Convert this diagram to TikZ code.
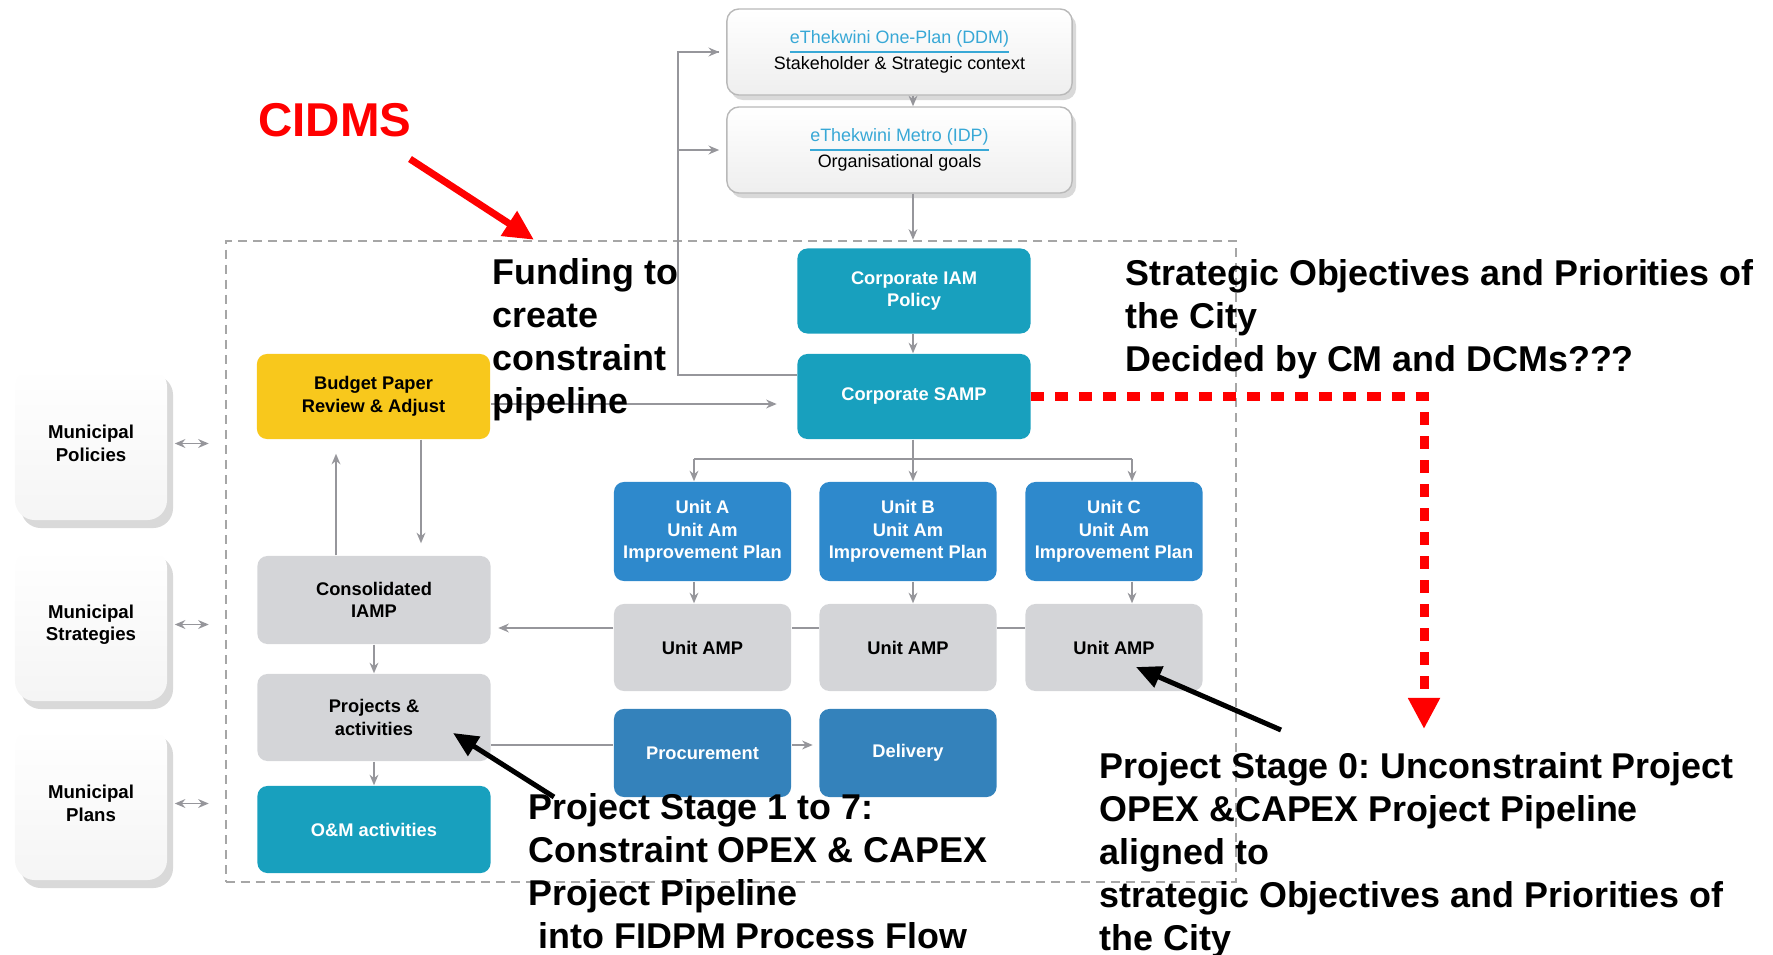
\documentclass[tikz,border=0pt]{standalone}
\usepackage{fontspec}
\setmainfont{Liberation Sans}
\usepackage{xcolor}
\usepackage{tikz}
\usetikzlibrary{arrows.meta, shadows, positioning}
\frenchspacing

\definecolor{camteal}{RGB}{24,160,190}
\definecolor{camblue}{RGB}{46,137,204}
\definecolor{camgrey}{RGB}{212,213,216}
\definecolor{camyellow}{RGB}{248,200,28}
\definecolor{camlink}{RGB}{56,168,214}
\definecolor{camline}{RGB}{150,150,155}
\definecolor{camred}{RGB}{255,0,0}

\begin{document}
\begin{tikzpicture}[
    x=0.01cm, y=-0.01cm,
    box/.style={rectangle, rounded corners=0.1cm, minimum width=2.33cm, minimum height=0.85cm, font=\fontsize{5.2}{6.4}\selectfont\bfseries, align=center, inner sep=1pt},
    tealbox/.style={box, fill=camteal, text=white},
    bluebox/.style={box, fill=camblue, text=white, minimum width=1.77cm},
    greybox/.style={box, fill=camgrey},
    topbox/.style={rectangle, rounded corners=0.12cm, draw=gray!55, top color=white, bottom color=gray!13, minimum width=3.45cm, minimum height=0.86cm, font=\fontsize{5.1}{7.5}\selectfont, align=center, drop shadow={opacity=0.3, shadow xshift=0.04cm, shadow yshift=-0.05cm}},
    munibox/.style={rectangle, rounded corners=0.2cm, top color=white, bottom color=gray!8, minimum width=1.52cm, minimum height=1.53cm, font=\fontsize{5.3}{6.4}\selectfont\bfseries, align=center, drop shadow={opacity=0.3, shadow xshift=0.06cm, shadow yshift=-0.08cm}},
    frame/.style={rectangle, draw=gray!70, line width=0.6pt, dash pattern=on 0.09cm off 0.06cm, minimum width=10.1cm, minimum height=6.41cm},
    note/.style={font=\fontsize{10.2}{12.2}\selectfont\bfseries, align=left, anchor=north west, inner sep=0pt},
    line/.style={camline, line width=0.5pt},
    flow/.style={line, -{Stealth[length=3pt, width=2.5pt]}},
    flowboth/.style={line, {Stealth[length=3pt, width=2.5pt]}-{Stealth[length=3pt, width=2.5pt]}},
    redflow/.style={camred, line width=0.09cm, dash pattern=on 0.13cm off 0.11cm, -{Triangle[length=0.31cm, width=0.3cm]}},
    redarrow/.style={camred, line width=0.07cm, -{Triangle[length=0.3cm, width=0.28cm]}},
    blackarrow/.style={black, line width=0.05cm, -{Triangle[length=0.25cm, width=0.22cm]}}
]
\useasboundingbox (0,0) rectangle (1773,954);

% CIDMS boundary
\node[frame] (cidmsframe) at (731,561.5) {};

% top context boxes
\node[topbox] (oneplan) at (899.5,52) {\textcolor{camlink}{\underline{eThekwini One-Plan (DDM)}}\\Stakeholder \& Strategic context};
\node[topbox] (metro) at (899.5,150) {\textcolor{camlink}{\underline{eThekwini Metro (IDP)}}\\Organisational goals};

% corporate level
\node[tealbox] (iam) at (914,291) {Corporate IAM\\Policy};
\node[tealbox] (samp) at (914,396.5) {Corporate SAMP};

% left column
\node[box, fill=camyellow] (budget) at (373.5,396.5) {Budget Paper\\Review \& Adjust};
\node[greybox, minimum height=0.88cm] (consol) at (374,600) {Consolidated\\IAMP};
\node[greybox, minimum height=0.87cm] (projects) at (374,717.5) {Projects \&\\activities};
\node[tealbox, minimum height=0.87cm] (om) at (374,829.5) {O\&M activities};

% unit plans
\node[bluebox, minimum height=0.99cm] (planA) at (702.5,531.5) {Unit A\\Unit Am\\Improvement Plan};
\node[bluebox, minimum height=0.99cm] (planB) at (908,531.5) {Unit B\\Unit Am\\Improvement Plan};
\node[bluebox, minimum height=0.99cm] (planC) at (1114,531.5) {Unit C\\Unit Am\\Improvement Plan};

% unit AMPs
\node[greybox, minimum width=1.77cm, minimum height=0.87cm] (ampA) at (702.5,647.5) {Unit AMP};
\node[greybox, minimum width=1.77cm, minimum height=0.87cm] (ampB) at (908,647.5) {Unit AMP};
\node[greybox, minimum width=1.77cm, minimum height=0.87cm] (ampC) at (1114,647.5) {Unit AMP};

% delivery row
\node[bluebox, minimum height=0.88cm, fill=camblue!90!black!95] (procure) at (702.5,753) {Procurement};
\node[bluebox, minimum height=0.88cm, fill=camblue!90!black!95] (delivery) at (908,753) {Delivery};

% municipal inputs
\node[munibox] (mpol) at (91,443.5) {Municipal\\Policies};
\node[munibox] (mstrat) at (91,624.5) {Municipal\\Strategies};
\node[munibox] (mplans) at (91,803.5) {Municipal\\Plans};

% helper points
\coordinate (fbcorner) at (678,375);
\coordinate (brA) at (694,459);
\coordinate (brB) at (913,459);
\coordinate (brC) at (1132,459);
\coordinate (stage0tip) at (1424,729);
\coordinate (cidmsfrom) at (410,159);
\coordinate (stage0from) at (1281,730);
\coordinate (stage1from) at (554,797);

% grey connectors
\draw[flow] (oneplan.south -| brB) -- (metro.north -| brB);
\draw[flow] (metro.south -| brB) -- (cidmsframe.north -| brB);
\draw[flow] (iam.south -| brB) -- (samp.north -| brB);
\draw[line] (samp.west |- fbcorner) -- (fbcorner) |- ([xshift=-0.07cm]oneplan.west);
\draw[flow, shorten >=0.07cm] (fbcorner |- oneplan.west) -- (oneplan.west);
\draw[flow, shorten >=0.07cm] (fbcorner |- metro.west) -- (metro.west);
\draw[flow, shorten >=0.2cm] ([yshift=-0.075cm]budget.east) -- ([yshift=-0.075cm]budget.east -| samp.west);
\draw[line] (samp.south -| brB) -- (brB);
\draw[line] (brA) -- (brC);
\draw[flow] (brA) -- (brA |- planA.north);
\draw[flow] (brB) -- (brB |- planB.north);
\draw[flow] (brC) -- (brC |- planC.north);
\draw[flow] (planA.south -| brA) -- (ampA.north -| brA);
\draw[flow] (planB.south -| brB) -- (ampB.north -| brB);
\draw[flow] (planC.south -| brC) -- (ampC.north -| brC);
\draw[line] ([yshift=0.195cm]ampC.west) -- ([yshift=0.195cm]ampB.east);
\draw[line] ([yshift=0.195cm]ampB.west) -- ([yshift=0.195cm]ampA.east);
\draw[flow, shorten >=0.07cm] ([yshift=0.195cm]ampA.west) -- ([yshift=0.195cm]ampA.west -| consol.east);
\draw[flow, shorten >=0.14cm] (consol.north -| 336,0) -- (budget.south -| 336,0);
\draw[flow, shorten >=0.12cm] (budget.south -| 421,0) -- (consol.north -| 421,0);
\draw[flow] (consol) -- (projects);
\draw[flow] (projects) -- (om);
\draw[line] ([yshift=-0.275cm]projects.east) -- ([yshift=-0.275cm]projects.east -| procure.west);
\draw[flow, shorten >=0.06cm] ([yshift=0.08cm]procure.east) -- ([yshift=0.08cm]procure.east -| delivery.west);
\draw[flowboth] ([xshift=0.07cm]mpol.east) -- ([xshift=0.41cm]mpol.east);
\draw[flowboth] ([xshift=0.07cm]mstrat.east) -- ([xshift=0.41cm]mstrat.east);
\draw[flowboth] ([xshift=0.07cm]mplans.east) -- ([xshift=0.41cm]mplans.east);

% annotations
\node[font=\fontsize{13.5}{16}\selectfont\bfseries, text=camred, inner sep=0pt] (cidms) at (335,120) {CIDMS};
\draw[redarrow] (cidmsfrom) -- (cidmsframe.north -| 534,0);
\draw[redflow] (samp.east) -| (stage0tip);
\draw[blackarrow] (stage0from) -- ([xshift=0.22cm, yshift=-0.195cm]ampC.center);
\draw[blackarrow] (stage1from) -- ([xshift=0.79cm, yshift=-0.155cm]projects.center);

\node[note] (funding) at (492,258) {Funding to\\create\\constraint\\pipeline};
\node[note] (strategic) at (1125,259) {Strategic Objectives and Priorities of\\the City\\Decided by CM and DCMs???};
\node[note] (stage1) at (528,793) {Project Stage 1 to 7:\\Constraint OPEX \& CAPEX\\Project Pipeline\\~into FIDPM Process Flow};
\node[note] (stage0) at (1099,752) {Project Stage 0: Unconstraint Project\\OPEX \&CAPEX Project Pipeline\\aligned to\\strategic Objectives and Priorities of\\the City};
\end{tikzpicture}
\end{document}
